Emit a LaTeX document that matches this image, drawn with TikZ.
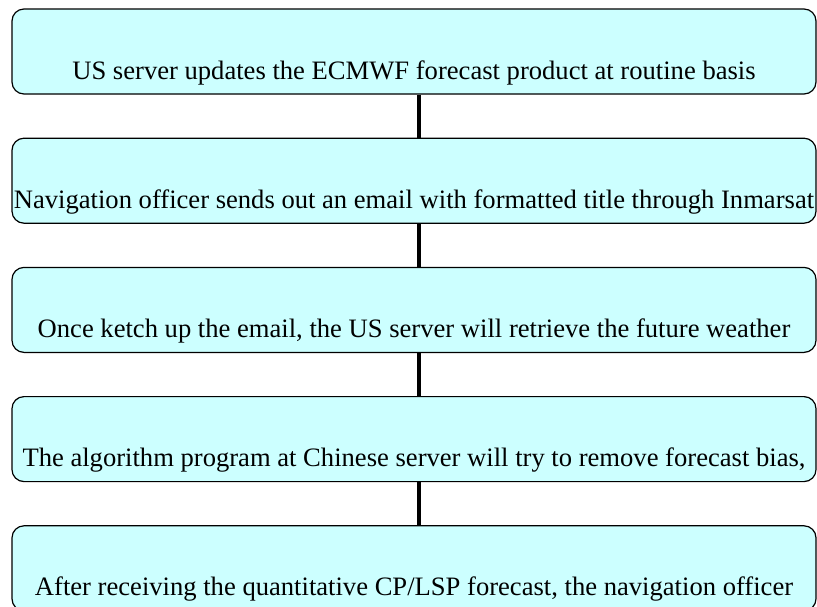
\documentclass[tikz,border=0pt]{standalone}
\usepackage{fontspec}
\setmainfont{Liberation Serif}
\usepackage{tikz}
\usetikzlibrary{positioning}
\definecolor{boxcyan}{RGB}{204,255,255}

\begin{document}
\begin{tikzpicture}[
    x=1pt, y=1pt,
    node distance=43pt,
    stepbox/.style={rectangle, rounded corners=12pt, draw, line width=1.2pt, fill=boxcyan,
                    minimum width=804pt, minimum height=85pt, inner xsep=0pt, inner ysep=4pt,
                    text height=66pt, text depth=11pt, font=\fontsize{26.6}{30}\selectfont},
    link/.style={line width=3.6pt}
  ]
  \useasboundingbox (0,0) rectangle (817,-606);

  % Steps
  \node[stepbox] (update) at (414,-51.5) {US server updates the ECMWF forecast product at routine basis};
  \node[stepbox, below=of update] (email) {Navigation officer sends out an email with formatted title through Inmarsat};
  \node[stepbox, below=of email] (fetch) {Once ketch up the email, the US server will retrieve the future weather};
  \node[stepbox, below=of fetch] (bias) {The algorithm program at Chinese server will try to remove forecast bias,};
  \node[stepbox, below=of bias] (receive) {After receiving the quantitative CP/LSP forecast, the navigation officer};

  % Links
  \draw[link] ([xshift=5pt]update.south) -- ([xshift=5pt]email.north);
  \draw[link] ([xshift=5pt]email.south) -- ([xshift=5pt]fetch.north);
  \draw[link] ([xshift=5pt]fetch.south) -- ([xshift=5pt]bias.north);
  \draw[link] ([xshift=5pt]bias.south) -- ([xshift=5pt]receive.north);
\end{tikzpicture}
\end{document}
